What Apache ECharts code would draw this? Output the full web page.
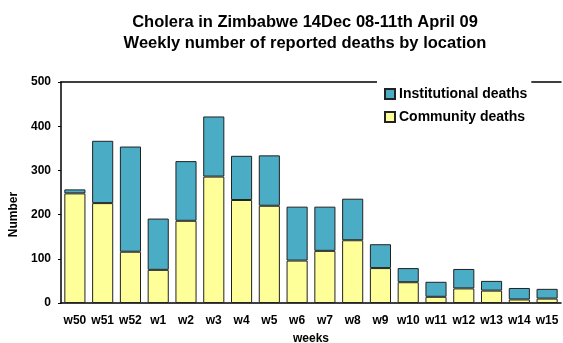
<!DOCTYPE html>
<html>
<head>
<meta charset="utf-8">
<script src="https://cdn.jsdelivr.net/npm/echarts@6/dist/echarts.min.js"></script>
<style>
html, body { margin: 0; padding: 0; background: #fff; }
#chart { width: 563px; height: 343px; }
</style>
</head>
<body>
<div id="chart"></div>
<script>
// weeks from 14 Dec 08 to 11 Apr 09
var weeks = ['w50', 'w51', 'w52', 'w1', 'w2', 'w3', 'w4', 'w5', 'w6', 'w7', 'w8', 'w9', 'w10', 'w11', 'w12', 'w13', 'w14', 'w15'];
var community = [248, 226, 116, 75, 186, 286, 233, 220, 96, 118, 142, 79, 47, 14, 33, 28, 8, 10];
var institutional = [9, 141, 238, 116, 135, 136, 100, 114, 122, 100, 94, 54, 32, 34, 44, 22, 26, 22];
var yTicks = [0, 100, 200, 300, 400, 500];

var font = 'Liberation Sans, Arial, sans-serif';
var mychart = echarts.init(document.getElementById('chart'));
var option = {
    animation: false,
    title: {
        text: 'Cholera in Zimbabwe 14Dec 08-11th April 09\nWeekly number of reported deaths by location',
        left: 300,
        top: 7,
        textAlign: 'center',
        textStyle: {
            fontFamily: font,
            fontSize: 16.5,
            fontWeight: 'bold',
            color: '#000',
            lineHeight: 21
        }
    },
    legend: {
        data: ['Institutional deaths', 'Community deaths'],
        orient: 'vertical',
        left: 377,
        top: 80,
        width: 155,
        padding: [7, 4, 4, 7],
        itemGap: 9,
        itemWidth: 10,
        itemHeight: 10,
        icon: 'rect',
        backgroundColor: '#fff',
        textStyle: {
            fontFamily: font,
            fontSize: 14,
            fontWeight: 'bold',
            color: '#000',
            padding: [0, 0, 0, -1]
        }
    },
    grid: {
        left: 61,
        right: 2,
        top: 82,
        bottom: 40,
        outerBoundsMode: 'none'
    },
    xAxis: [
        {
            type: 'category',
            data: weeks,
            name: 'weeks',
            nameLocation: 'middle',
            nameGap: 30,
            nameTextStyle: { fontFamily: font, fontSize: 12, fontWeight: 'bold', color: '#000' },
            axisLine: { lineStyle: { color: '#000', width: 1.5 } },
            axisTick: { show: false },
            axisLabel: { fontFamily: font, fontSize: 12, fontWeight: 'bold', color: '#000', margin: 12, interval: 0 }
        },
        {
            // top border of the plot area
            type: 'category',
            position: 'top',
            data: weeks,
            axisLine: { show: true, lineStyle: { color: '#000', width: 1.5 } },
            axisTick: { show: false },
            axisLabel: { show: false }
        }
    ],
    yAxis: {
        type: 'value',
        min: 0,
        max: 500,
        interval: 100,
        name: 'Number',
        nameLocation: 'middle',
        nameGap: 35,
        nameTextStyle: { fontFamily: font, fontSize: 12, fontWeight: 'bold', color: '#000', padding: [0, 44, 0, 0] },
        axisLine: { show: true, lineStyle: { color: '#000', width: 1.5 } },
        axisTick: { show: true, length: 3, lineStyle: { color: '#000' } },
        splitLine: { show: false },
        axisLabel: {
            fontFamily: font, fontSize: 12, fontWeight: 'bold', color: '#000', margin: 10,
            formatter: function (v) { return yTicks.indexOf(v) >= 0 ? String(v) : ''; }
        }
    },
    series: [
        {
            name: 'Community deaths',
            type: 'bar',
            stack: 'deaths',
            data: community,
            barCategoryGap: '24%',
            itemStyle: { color: '#FFFF99', borderColor: '#222', borderWidth: 1 }
        },
        {
            name: 'Institutional deaths',
            type: 'bar',
            stack: 'deaths',
            data: institutional,
            barCategoryGap: '24%',
            itemStyle: { color: '#4BACC6', borderColor: '#222', borderWidth: 1 }
        }
    ]
};
mychart.setOption(option);
</script>
</body>
</html>
